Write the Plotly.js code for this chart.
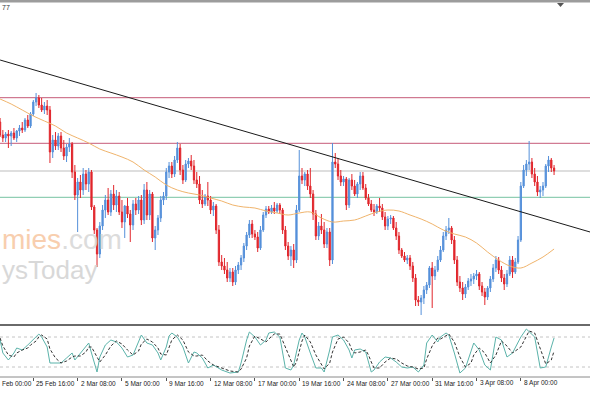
<!DOCTYPE html>
<html><head><meta charset="utf-8">
<script src="https://cdn.plot.ly/plotly-3.0.1.min.js"></script>
<style>html,body{margin:0;padding:0;background:#fff;overflow:hidden}#chart{width:590px;height:393px}</style>
</head><body><div id="chart"></div>
<script>
// ---- data (H4 bars, bar index counted from 23 Feb 00:00) ----
const firstBar = 4;
const openP = [
278,265,262,266,264,267,262,269,272,270,
280,274,286,298,302,295,290,294,290,248,
260,254,264,252,244,253,256,228,205,218,
210,226,216,228,193,170,146,174,190,200,
188,206,195,204,188,178,194,186,175,196,
190,200,180,210,185,206,162,170,182,200,
204,228,234,226,240,252,230,220,236,239,
234,220,216,200,196,204,200,190,194,170,
138,134,130,122,128,118,130,135,142,154,
165,176,166,163,152,170,185,191,188,192,
189,195,190,170,154,144,150,140,190,224,
220,226,214,206,186,164,174,170,156,168,
140,238,236,224,218,221,195,220,214,206,
216,224,212,202,196,190,188,194,192,183,
174,181,182,172,164,150,144,140,142,134,
122,100,98,102,110,115,132,124,130,140,
150,164,170,172,160,140,118,112,106,113,
119,121,124,126,114,108,103,112,121,132,
140,130,122,116,126,140,128,138,160,214,
230,236,238,226,218,208,210,214,234,240,232];
const highP = [
282,270,268,270,269,272,270,275,278,282,
285,288,300,307,305,302,298,300,294,265,
268,267,268,260,256,262,258,235,222,225,
232,230,232,230,195,172,178,195,205,212,
210,215,210,208,200,195,202,190,200,202,
204,205,216,218,210,208,174,185,204,208,
232,238,238,244,258,256,235,240,242,245,
240,228,224,210,206,218,204,198,196,175,
145,142,138,132,132,134,138,145,157,168,
180,180,170,168,174,188,194,194,195,198,
197,197,192,174,158,154,156,195,250,232,
228,230,232,210,190,178,186,178,172,172,
257,247,242,230,224,223,222,226,220,218,
228,228,216,206,200,196,196,202,196,188,
184,185,184,178,168,152,148,145,145,138,
126,104,105,114,118,134,138,134,144,154,
168,174,182,174,164,144,124,118,116,122,
126,127,130,128,118,112,114,124,136,144,
143,134,126,130,144,144,142,164,218,235,
240,259,242,232,224,214,218,236,244,242,235];
const lowP = [
263,258,258,252,254,260,258,264,267,268,
272,272,284,294,292,288,286,285,237,242,
250,250,248,240,238,248,222,200,168,202,
205,210,208,190,166,133,142,170,182,185,
184,190,188,185,172,162,182,158,170,185,
186,175,176,180,180,158,150,165,178,195,
200,222,222,223,237,225,216,218,232,230,
216,212,196,192,194,194,186,184,166,134,
130,126,118,118,114,115,126,130,138,150,
162,162,160,148,150,168,182,186,186,186,
187,186,166,150,140,134,132,137,188,216,
214,210,202,180,160,160,166,152,152,134,
136,232,220,214,214,190,192,210,204,202,
210,210,200,194,188,184,186,188,180,170,
170,176,170,160,146,142,138,136,130,118,
94,94,85,96,106,112,92,120,128,138,
148,160,166,156,136,114,108,100,102,110,
114,116,120,110,104,95,100,108,118,128,
126,118,110,113,124,122,126,136,158,212,
224,230,222,214,204,202,204,212,228,228,225];
const closeP = [
265,262,266,264,267,262,269,272,270,280,
274,286,298,302,295,290,294,290,248,260,
254,264,252,244,253,256,228,205,218,210,
226,216,228,193,170,146,174,190,200,188,
206,195,204,188,178,194,186,175,196,190,
200,180,210,185,206,162,170,182,200,204,
228,234,226,240,252,230,220,236,239,234,
220,216,200,196,204,200,190,194,170,138,
134,130,122,128,118,130,135,142,154,165,
176,166,163,152,170,185,191,188,192,189,
195,190,170,154,144,150,140,190,224,220,
226,214,206,186,164,174,170,156,168,140,
238,236,224,218,221,195,220,214,206,216,
224,212,202,196,190,188,194,192,183,174,
181,182,172,164,150,144,140,142,134,122,
100,98,102,110,115,132,124,130,140,150,
164,170,172,160,140,118,112,106,113,119,
121,124,126,114,108,103,112,121,132,140,
130,122,116,126,140,128,138,160,214,230,
236,238,226,218,208,210,214,234,240,232,229];

// moving average
const maBars = [4,8,12,16,20,24,28,32,36,40,44,48,52,56,60,64,68,72,76,80,84,88,92,96,100,104,108,112,116,120,124,128,132,136,140,144,148,152,156,160,164,168,172,176,180,184,188,192,196,200,204];
const maValues = [301,296,290,284,279,274,267,262,257,251,247,243,238,230,223,215,210,207,205,202,199,195,193,192,189,187,185,187,188,182,178,179,180,184,188,190,189,185,181,176,170,166,163,157,148,140,134,132,137,143,151];

// horizontal levels and trend line
const levelValues = [302.3, 256.7, 229, 202.7];
const levelColors = ['#c65a78', '#c65a78', '#bdbdbd', '#76c2a2'];
const trendBars = [4, 217];
const trendValues = [340, 168];

// stochastic oscillator
const stochBars = [4,5,7,9,10,12,14,15,17,18,19,21,22,24,26,28,30,31,33,35,36,37,39,40,42,44,46,48,50,52,54,55,57,59,61,62,64,65,66,68,70,72,74,75,77,79,81,83,84,87,90,91,93,94,96,98,100,101,103,105,107,109,110,111,112,113,114,116,118,120,121,123,124,126,128,130,131,132,134,136,137,138,139,141,143,145,147,149,151,153,155,157,158,160,162,163,165,166,168,170,172,174,175,177,179,181,183,185,187,189,192,194,195,197,199,201,203,204];
const stochK = [74,48,34,48,58,54,64,70,82,86,80,60,28,28,28,38,48,34,48,60,68,48,10,40,64,74,70,58,40,44,70,84,68,64,48,34,60,82,88,80,60,28,50,48,38,18,24,18,14,8,10,28,74,90,80,64,74,88,90,80,18,14,24,50,74,88,80,48,18,18,10,54,80,84,74,54,38,54,56,50,30,10,14,30,40,38,30,20,18,20,10,24,68,84,70,80,88,84,48,8,18,50,68,54,24,14,80,74,40,48,80,96,90,80,18,20,60,78];
const stochD = [78,62,44,40,48,54,58,64,72,80,84,76,56,38,28,32,40,42,42,50,60,60,40,30,44,62,72,66,54,44,52,66,76,70,58,46,44,60,74,84,74,50,42,42,44,32,24,20,18,12,10,16,38,62,82,76,70,76,86,86,58,30,20,30,50,72,84,70,44,24,16,28,50,76,80,68,54,48,50,54,44,30,18,18,30,38,36,28,22,20,16,18,36,62,78,76,82,86,70,40,20,28,44,58,48,28,44,72,62,48,60,82,92,88,56,26,34,52];
const stochLevels = [80, 20];

// time axis labels (first one is only partly visible in the picture)
const tickBars = [0,16,32,48,64,80,96,112,128,144,160,176,192];
const tickLabels = ['Feb 00:00','25 Feb 16:00','2 Mar 08:00','5 Mar 00:00','9 Mar 16:00','12 Mar 08:00','17 Mar 00:00','19 Mar 16:00','24 Mar 08:00','27 Mar 00:00','31 Mar 16:00','3 Apr 08:00','8 Apr 00:00'];

// ---- drawing ----
const W = 590, H = 393;
const xRange = [3.97, 216.97];
const py = p => 1 - p / H;
const px = p => p / W;
const bars = openP.map((_, i) => firstBar + i);
const FONT = 'Liberation Sans, Arial, sans-serif';

const traces = [
  {type:'candlestick', x:bars, open:openP, high:highP, low:lowP, close:closeP,
   xaxis:'x', yaxis:'y', whiskerwidth:0, hoverinfo:'skip',
   increasing:{line:{color:'#5590da', width:1}, fillcolor:'#5590da'},
   decreasing:{line:{color:'#e1262c', width:1}, fillcolor:'#e1262c'}},
  {type:'scatter', mode:'lines', x:maBars, y:maValues, xaxis:'x', yaxis:'y',
   line:{color:'#f0b46c', width:1, shape:'spline'}, hoverinfo:'skip'},
  {type:'scatter', mode:'lines', x:stochBars, y:stochK, xaxis:'x', yaxis:'y2',
   line:{color:'#5bb3aa', width:1}, hoverinfo:'skip'},
  {type:'scatter', mode:'lines', x:stochBars, y:stochD, xaxis:'x', yaxis:'y2',
   line:{color:'#333333', width:1, dash:'3px,2px'}, hoverinfo:'skip'}
];

const shapes = [];
levelValues.forEach((v, i) => shapes.push({type:'line', xref:'paper', yref:'y', x0:0, x1:1, y0:v, y1:v,
  line:{color:levelColors[i], width:1}, layer:'below'}));
shapes.push({type:'line', xref:'x', yref:'y', x0:trendBars[0], x1:trendBars[1], y0:trendValues[0], y1:trendValues[1],
  line:{color:'#1a1a1a', width:1}});
stochLevels.forEach(v => shapes.push({type:'line', xref:'paper', yref:'y2', x0:0, x1:1, y0:v, y1:v,
  line:{color:'#c4c4c4', width:1, dash:'dot'}, layer:'below'}));
// frame pieces
shapes.push({type:'rect', xref:'paper', yref:'paper', x0:0, x1:1, y0:py(2.5), y1:1, fillcolor:'#9c9c9c', line:{width:0}});
shapes.push({type:'line', xref:'paper', yref:'paper', x0:0, x1:1, y0:py(325), y1:py(325), line:{color:'#6a6a6a', width:2}});
shapes.push({type:'line', xref:'paper', yref:'paper', x0:0, x1:1, y0:py(377), y1:py(377), line:{color:'#8a8a8a', width:1}});
shapes.push({type:'path', xref:'paper', yref:'paper',
  path:`M ${px(557)} ${py(3)} L ${px(564)} ${py(3)} L ${px(560.5)} ${py(7)} Z`, fillcolor:'#555', line:{width:0}});

const annotations = [];
tickBars.forEach((b, i) => {
  const inside = b >= xRange[0];
  annotations.push({xref: inside ? 'x' : 'paper', yref:'paper', x: inside ? b : 0, y:py(383),
    xanchor:'left', yanchor:'middle', xshift: inside ? 1 : 0, text:tickLabels[i], showarrow:false,
    font:{family:FONT, size:6.5, color:'#222'}});
});
annotations.push({xref:'paper', yref:'paper', x:0, y:py(8), xanchor:'left', yanchor:'middle', text:'77', showarrow:false,
  font:{family:FONT, size:7, color:'#333'}});
// watermark (visible part)
annotations.push({xref:'paper', yref:'paper', x:0, y:py(239), xanchor:'left', yanchor:'middle', showarrow:false, opacity:0.85,
  text:'<span style="color:#f7c6a0">mies</span><span style="color:#d6d6d6">.com</span>',
  font:{family:FONT, size:28}});
annotations.push({xref:'paper', yref:'paper', x:0, y:py(270), xanchor:'left', yanchor:'middle', showarrow:false, opacity:0.85,
  text:'ysToday', font:{family:FONT, size:26, color:'#d2d2d2'}});

const layout = {
  width:W, height:H, margin:{l:0, r:0, t:0, b:0, pad:0},
  paper_bgcolor:'#ffffff', plot_bgcolor:'#ffffff', showlegend:false,
  boxgap:0.35, dragmode:false, hovermode:false,
  xaxis:{range:xRange, anchor:'y2', showgrid:false, zeroline:false, showticklabels:false,
    ticks:'outside', ticklen:3, tickcolor:'#555', tickvals:tickBars, showline:false,
    rangeslider:{visible:false}, fixedrange:true},
  yaxis:{domain:[py(323), py(3)], range:[77, 397], showgrid:false, zeroline:false, showticklabels:false, fixedrange:true},
  yaxis2:{domain:[py(377), py(327)], range:[0, 100], showgrid:false, zeroline:false, showticklabels:false, fixedrange:true},
  shapes, annotations
};

Plotly.newPlot('chart', traces, layout, {displayModeBar:false, staticPlot:true});
</script>
</body></html>
